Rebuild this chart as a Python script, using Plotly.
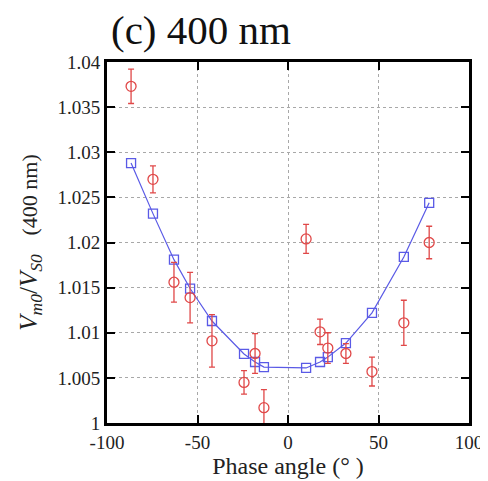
import plotly.graph_objects as go

# Model (blue squares + line)
model_phase = [-86.7, -74.6, -63.0, -54.1, -42.0, -24.3, -18.2, -13.3, 10.0, 17.7, 22.0, 32.0, 46.4, 64.0, 78.0]
model_ratio = [1.0288, 1.0232, 1.0181, 1.0149, 1.0113, 1.00765, 1.00676, 1.0062, 1.0061, 1.00676, 1.0073, 1.00886, 1.0122, 1.0184, 1.0244]

# Observations (red circles with error bars)
obs_phase = [-86.7, -74.6, -63.0, -54.1, -42.0, -24.3, -18.2, -13.3, 10.0, 17.7, 22.0, 32.0, 46.4, 64.0, 78.0]
obs_ratio = [1.0373, 1.0270, 1.0156, 1.0139, 1.0091, 1.0045, 1.0077, 1.0017, 1.0204, 1.0101, 1.0083, 1.0077, 1.0057, 1.0111, 1.0200]
obs_err = [0.0019, 0.0015, 0.0022, 0.0028, 0.0029, 0.0013, 0.0022, 0.0020, 0.0016, 0.0014, 0.0017, 0.0011, 0.0016, 0.0025, 0.0018]

x_ticks = [-100, -50, 0, 50, 100]
x_ticktext = ["-100", "-50", "0", "50", "100"]
y_ticks = [1.0, 1.005, 1.01, 1.015, 1.02, 1.025, 1.03, 1.035, 1.04]
y_ticktext = ["1", "1.005", "1.01", "1.015", "1.02", "1.025", "1.03", "1.035", "1.04"]

FONT = "'Liberation Serif', 'Times New Roman', 'DejaVu Serif', serif"
RED = "#e04848"
BLUE = "#5a5ae6"

# The page body has an 8px default margin; figure is sized so it ends at the window edge.
W, H = 480, 473

fig = go.Figure()
fig.add_trace(go.Scatter(
    x=model_phase, y=model_ratio, mode="lines+markers",
    line=dict(color=BLUE, width=1.2),
    marker=dict(symbol="square-open", size=9, color=BLUE, line=dict(width=1.3, color=BLUE)),
    showlegend=False,
))
fig.add_trace(go.Scatter(
    x=obs_phase, y=obs_ratio, mode="markers",
    marker=dict(symbol="circle-open", size=10, color=RED, line=dict(width=1.3, color=RED)),
    error_y=dict(type="data", array=obs_err, visible=True, color=RED, thickness=1.3, width=3),
    showlegend=False,
))

axis_common = dict(
    showline=True, linecolor="black", linewidth=3, mirror="ticks",
    ticks="inside", ticklen=8, tickwidth=1.5, tickcolor="black",
    showgrid=True, gridcolor="#a8a8a8", gridwidth=1, griddash="dot",
    zeroline=False,
    tickfont=dict(family=FONT, size=19, color="#222"),
)

y_title = ("<i>V</i><sub><i>m0</i></sub>/<i>V</i><sub><i>S0</i></sub>"
           "   <span style='font-size:22px'>(400 nm)</span>")

fig.update_layout(
    width=W, height=H,
    margin=dict(l=99, r=19, t=54, b=58, autoexpand=False),
    paper_bgcolor="white", plot_bgcolor="white",
    font=dict(family=FONT),
    title=dict(text="(c) 400 nm", x=103 / W, xref="container", xanchor="left",
               y=1 - 22 / H, yref="container", yanchor="middle", automargin=False,
               font=dict(family=FONT, size=41, color="#111")),
    xaxis=dict(range=[-100, 100], tickvals=x_ticks, ticktext=x_ticktext,
               title=dict(text="Phase angle (° )", font=dict(family=FONT, size=24, color="#222"), standoff=4),
               **axis_common),
    yaxis=dict(range=[1.0, 1.04], tickvals=y_ticks, ticktext=y_ticktext,
               title=dict(text=y_title, font=dict(family=FONT, size=25, color="#222"), standoff=13),
               **axis_common),
)

fig.write_html("out.html")
